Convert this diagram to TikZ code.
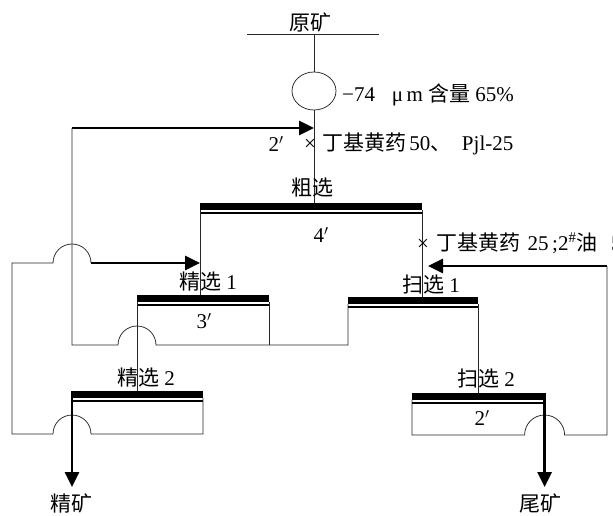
\documentclass[tikz,border=0pt]{standalone}
\usepackage{fontspec}
\setmainfont{Liberation Serif}
\newfontfamily\cjk{Noto Sans CJK SC}
\usetikzlibrary{arrows.meta,shapes.geometric,calc}
\begin{document}
\begin{tikzpicture}[x=1pt,y=1pt,
  lbl/.style={inner sep=0pt, font=\fontsize{21}{24}\selectfont},
  barnode/.style={fill=black, inner sep=0pt, outer sep=0pt, minimum height=7pt},
  thinbar/.style={line width=1.6pt},
  flow/.style={line width=0.75pt, black!85},
  bigarrow/.style={line width=2.8pt, -{Triangle[length=15pt,width=14pt]}},
  mill/.style={draw, line width=0.75pt, black!85, ellipse, inner sep=0pt, minimum width=44pt, minimum height=38pt}
]
\useasboundingbox (0,0) rectangle (613,515);
\fill[white] (0,0) rectangle (613,515);

% separation stages (bars)
\node[barnode, minimum width=222pt] (ro) at (311,308.5) {};
\node[barnode, minimum width=132pt] (c1) at (203,217) {};
\node[barnode, minimum width=132.4pt] (c2) at (136.8,120.5) {};
\node[barnode, minimum width=130pt] (s1) at (413,214.5) {};
\node[barnode, minimum width=134pt] (s2) at (479,119) {};
\foreach \n in {ro,c1,c2,s1,s2}
  \draw[thinbar] ([yshift=-3.2pt]\n.south west) -- ([yshift=-3.2pt]\n.south east);

% grinding
\node[mill] (mill) at (314,424) {};
\coordinate (feedL) at (247,481);
\coordinate (feedR) at (379,481);
\draw[flow] (feedL) -- (feedR);
\draw[flow] (mill.north |- feedL) -- (mill.north);
\draw[flow] (mill.south) -- (mill.south |- ro.north);

% helper coordinates
\coordinate (loopTop) at (72,387);
\coordinate (loopBot) at (72,170);
\coordinate (hopC) at (c1.south west |- loopBot);
\coordinate (farL) at (12,252);
\coordinate (hopA) at (loopTop |- farL);
\coordinate (hopB) at (72,81);
\coordinate (farLB) at (farL |- hopB);
\coordinate (farR) at (607,249);
\coordinate (hopD) at (544.6,80);
\coordinate (concEnd) at (72,28);
\coordinate (tailEnd) at (544.6,28);

% scavenger-1 concentrate / cleaner-1 tail back to rougher feed
\draw[bigarrow] (loopTop) -- (loopTop -| mill.south);
\draw[flow] (loopTop) -- (loopBot) -- ([xshift=-19pt]hopC)
  arc[start angle=180,end angle=0,radius=19pt] -- (hopC -| s1.south west) -- (s1.south west);
\draw[flow] (c1.south east) -- (c1.south east |- loopBot);

% rougher outputs
\draw[flow] (ro.south west) -- (ro.south west |- c1.north);
\draw[flow] (ro.south east) -- (ro.south east |- s1.north);
% cleaner 1 -> cleaner 2
\draw[flow] (c1.south west) -- (c1.south west |- c2.north);
% scavenger 1 -> scavenger 2
\draw[flow] (s1.south east) -- (s1.south east |- s2.north);

% cleaner 2 tail back to cleaner 1
\draw[flow] (c2.south east) -- (c2.south east |- hopB) -- ([xshift=19pt]hopB)
  arc[start angle=0,end angle=180,radius=19pt] -- (farLB) -- (farL) -- ([xshift=-19pt]hopA)
  arc[start angle=180,end angle=0,radius=19pt];
\draw[bigarrow] ([xshift=19pt]hopA) -- (ro.south west |- hopA);

% scavenger 2 concentrate back to scavenger 1
\draw[bigarrow] (farR) -- ([xshift=6pt]ro.south east |- farR);
\draw[flow] (farR) -- (farR |- hopD) -- ([xshift=20pt]hopD)
  arc[start angle=0,end angle=180,radius=20pt] -- (s2.south west |- hopD) -- (s2.south west);

% products
\draw[bigarrow] (concEnd |- c2.north) -- (concEnd);
\draw[bigarrow] (tailEnd |- s2.north) -- (tailEnd);

% labels
\node[lbl] (rawlbl) at (310,493) {\cjk 原矿};
\node[lbl, anchor=west] (sizelbl) at (342,420) {−74\hspace{0.8em}μ\,m {\cjk 含量} 65\%};
\node[lbl] (t1) at (276,371) {2$'$};
\node[lbl, anchor=west] (reag1) at (304,371) {×\hspace{0.3em}{\cjk 丁基黄药}\hspace{0.15em}50{\cjk 、}\hspace{0.5em}Pjl-25};
\node[lbl] (rolbl) at (312,327) {\cjk 粗选};
\node[lbl] (rotime) at (321,280) {4$'$};
\node[lbl, anchor=west] (reag2) at (417,272) {×\hspace{0.35em}{\cjk 丁基黄药}\hspace{0.35em}25\,;2\textsuperscript{\#}{\cjk 油}\hspace{0.65em}5};
\node[lbl] (c1lbl) at (208,233) {{\cjk 精选} 1};
\node[lbl] (c1time) at (204,194) {3$'$};
\node[lbl] (c2lbl) at (146,137) {{\cjk 精选} 2};
\node[lbl] (s1lbl) at (431,230) {{\cjk 扫选} 1};
\node[lbl] (s2lbl) at (486,136) {{\cjk 扫选} 2};
\node[lbl] (s2time) at (482,97) {2$'$};
\node[lbl] (conc) at (71,12) {\cjk 精矿};
\node[lbl] (tail) at (540,11.5) {\cjk 尾矿};
\end{tikzpicture}
\end{document}
